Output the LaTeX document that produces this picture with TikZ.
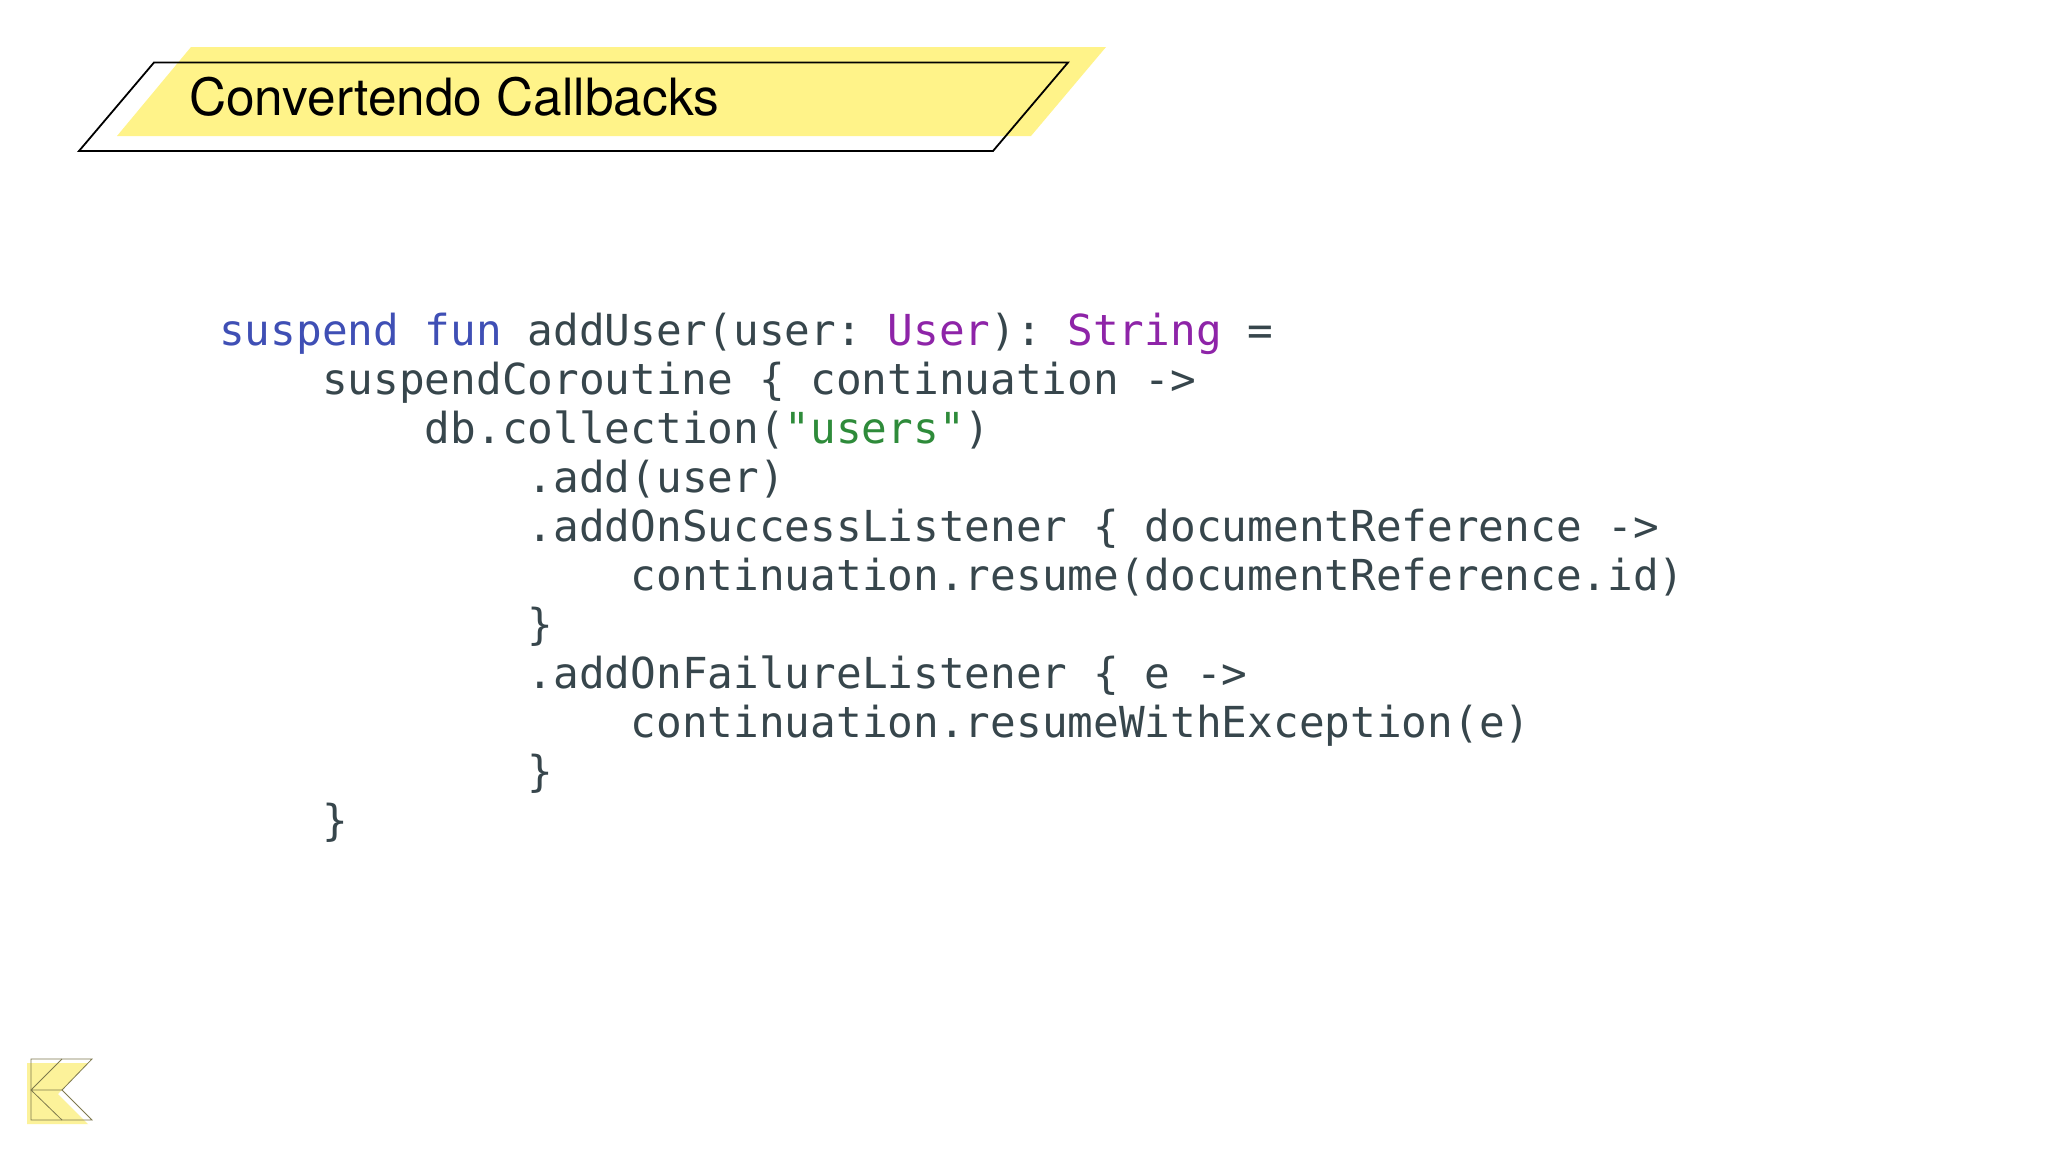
\documentclass[tikz,border=0pt]{standalone}
\usepackage{fontspec}
\setmainfont{TeX Gyre Heros}
\newfontfamily\codefont{DejaVu Sans Mono}
\usetikzlibrary{calc}
\definecolor{bandyellow}{HTML}{FFF389}
\definecolor{logoyellow}{HTML}{FCF29A}
\definecolor{codegray}{HTML}{37464C}
\definecolor{codeblue}{HTML}{3F4FB5}
\definecolor{codepurple}{HTML}{8E24A8}
\definecolor{codegreen}{HTML}{2E8B3A}
\newcommand{\kw}[1]{\textcolor{codeblue}{#1}}
\newcommand{\ty}[1]{\textcolor{codepurple}{#1}}
\newcommand{\st}[1]{\textcolor{codegreen}{#1}}
\frenchspacing
\tikzset{
  codeline/.style={anchor=base west, inner sep=0pt, text=codegray, font=\codefont\fontsize{42.7}{49}\selectfont},
  titletext/.style={anchor=base west, inner sep=0pt, text=black, font=\fontsize{51.4}{56}\selectfont},
  logoline/.style={black!50!logoyellow, line width=.8pt}
}
\begin{document}
\begin{tikzpicture} [x=1pt, y=-1pt]
\useasboundingbox (0,0) rectangle (2048,1152);
\fill[white] (0,0) rectangle (2048,1152);

\fill[bandyellow] (191,47)--(1106,47)--(1031,136)--(117,136)--cycle;
\draw[black, line width=1.8pt] (154,62.5)--(1068,62.5)--(993,151)--(79,151)--cycle;
\node[titletext] (title) at (189,115.5) {Convertendo Callbacks};

\foreach \n/\ind/\txt [evaluate=\ind as \xi using 219+25.72*\ind] in {
  0/0/{\kw{suspend fun} addUser(user: \ty{User}): \ty{String} =},
  1/4/{suspendCoroutine \{ continuation ->},
  2/8/{db.collection(\st{"users"})},
  3/12/{.add(user)},
  4/12/{.addOnSuccessListener \{ documentReference ->},
  5/16/{continuation.resume(documentReference.id)},
  6/12/{\}},
  7/12/{.addOnFailureListener \{ e ->},
  8/16/{continuation.resumeWithException(e)},
  9/12/{\}},
  10/4/{\}}}
  \node[codeline] (line\n) at (\xi, 345+49.0*\n) {\txt};

% logo
\fill[logoyellow] (27,1063)--(88,1063)--(58,1094)--(88,1124)--(27,1124)--cycle;
\draw[logoline] (31,1059)--(92,1059)--(62,1090)--(92,1120)--(31,1120)--cycle;
\draw[logoline] (62,1059)--(31,1090)--(62,1120) (31,1090)--(62,1090);

\end{tikzpicture}
\end{document}
